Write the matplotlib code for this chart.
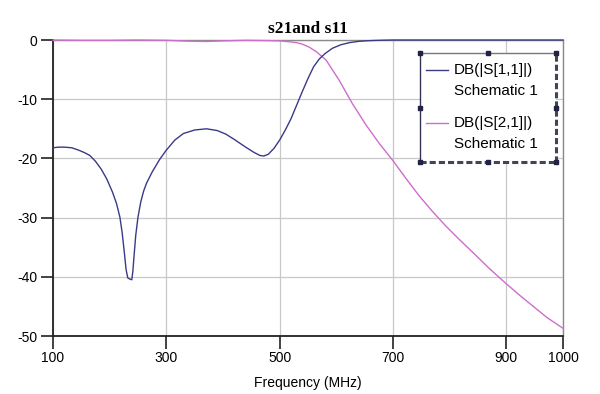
import matplotlib
matplotlib.use("Agg")
import matplotlib.pyplot as plt
from matplotlib.patches import Rectangle
from matplotlib.lines import Line2D

# S11 (dB) vs frequency (MHz)
s11_freq = [100, 110, 120, 133, 145, 155, 165, 175, 185, 195, 205, 212, 218, 222, 226, 229, 232, 236, 239, 241, 243, 246,
            250, 255, 260, 265, 275, 288, 300, 315, 330, 350, 371, 390, 405, 420, 440, 455, 465, 472, 480, 490, 500,
            510, 520, 530, 540, 550, 560, 570, 580, 593, 608, 623, 640, 660, 680, 700, 1000]
s11_db = [-18.2, -18.1, -18.1, -18.2, -18.6, -19.0, -19.5, -20.5, -21.8, -23.5, -25.7, -27.6, -29.9, -32.5, -36.0, -38.8, -40.2, -40.4, -40.5, -39.0, -36.5, -33.0,
          -29.9, -27.3, -25.5, -24.2, -22.3, -20.2, -18.6, -16.9, -15.8, -15.2, -15.0, -15.3, -15.9, -16.8, -18.1, -19.0, -19.5, -19.6, -19.3, -18.3, -16.9,
          -15.2, -13.3, -11.0, -8.7, -6.5, -4.5, -3.2, -2.3, -1.4, -0.8, -0.45, -0.22, -0.1, -0.04, 0.0, 0.0]

# S21 (dB) vs frequency (MHz)
s21_freq = [100, 150, 200, 250, 300, 340, 370, 400, 440, 480, 500, 517, 530, 540, 552, 565, 582, 605, 628, 652, 676, 700,
            723, 746, 770, 793, 816, 840, 870, 899, 922, 945, 972, 1000]
s21_db = [0.0, -0.05, -0.05, 0.0, -0.05, -0.2, -0.25, -0.15, -0.05, -0.1, -0.15, -0.3, -0.45, -0.7, -1.2, -2.0, -3.4, -6.8, -10.7, -14.3, -17.5, -20.4,
          -23.4, -26.3, -29.0, -31.4, -33.6, -35.8, -38.6, -41.1, -43.0, -44.8, -46.9, -48.7]

xticks = [100, 300, 500, 700, 900, 1000]
yticks = [0, -10, -20, -30, -40, -50]
legend_labels = ["DB(|S[1,1]|)", "DB(|S[2,1]|)"]
legend_sub = "Schematic 1"

c11 = "#3a3a86"
c21 = "#cc6fcc"

plt.rcParams['font.family'] = ['Liberation Sans', 'DejaVu Sans']
fig = plt.figure(figsize=(6, 3.94), dpi=100)
ax = fig.add_axes([53/600, 1-336/394, 510/600, 296/394])

ax.plot(s21_freq, s21_db, color=c21, lw=1.0, clip_on=False, zorder=3)
ax.plot(s11_freq, s11_db, color=c11, lw=1.0, clip_on=False, zorder=4)

ax.set_xlim(100, 1000)
ax.set_ylim(-50, 0)
ax.set_xticks(xticks)
ax.set_yticks(yticks)
ax.set_xticklabels([str(t) for t in xticks], fontsize=10)
ax.set_yticklabels([str(t) for t in yticks], fontsize=10)
ax.tick_params(direction='out', length=9, width=1.2, color='#222222', pad=2)
ax.grid(True, color='#c8c8c8', lw=0.9)
ax.set_axisbelow(True)
for s in ['left', 'bottom']:
    ax.spines[s].set_color('#222222')
    ax.spines[s].set_linewidth(1.3)
for s in ['top', 'right']:
    ax.spines[s].set_color('#8a8a8a')
    ax.spines[s].set_linewidth(1.0)

ax.set_xlabel("Frequency (MHz)", fontsize=10, labelpad=6)
ax.xaxis.set_label_coords(0.5, -0.135)
ax.set_title("s21and s11", fontsize=12.5, fontweight='bold', family='Liberation Serif', pad=5)

# legend box (axes fraction)
x0, x1 = (420-53)/510, (556-53)/510
y0, y1 = (336-162)/296, (336-53)/296
ax.add_patch(Rectangle((x0, y0), x1-x0, y1-y0, transform=ax.transAxes, facecolor='white',
                       edgecolor='none', zorder=5, clip_on=False))
ax.add_line(Line2D([x0, x1], [y1, y1], transform=ax.transAxes, color='#777777', lw=1.0, zorder=6, clip_on=False))
ax.add_line(Line2D([x0, x0], [y0, y1], transform=ax.transAxes, color='#333355', lw=1.0, zorder=6, clip_on=False))
ax.add_line(Line2D([x1, x1], [y0, y1], transform=ax.transAxes, color='#444455', lw=2.2, ls=(0, (2, 1)), zorder=6, clip_on=False))
ax.add_line(Line2D([x0, x1], [y0, y0], transform=ax.transAxes, color='#444455', lw=2.2, ls=(0, (2, 1)), zorder=6, clip_on=False))
xm, ym = (x0+x1)/2, (y0+y1)/2
hx = [x0, xm, x1, x0, x1, x0, xm, x1]
hy = [y1, y1, y1, ym, ym, y0, y0, y0]
ax.add_line(Line2D(hx, hy, transform=ax.transAxes, ls='none', marker='s', ms=3, color='#222244', zorder=7, clip_on=False))

for i, (lab, col) in enumerate(zip(legend_labels, [c11, c21])):
    yl = (336-70-i*53)/296
    ax.add_line(Line2D([(426-53)/510, (448-53)/510], [yl, yl], transform=ax.transAxes, color=col, lw=1.0, zorder=7, clip_on=False))
    ax.text((454-53)/510, yl, lab, transform=ax.transAxes, fontsize=11, va='center', ha='left', zorder=8)
    ax.text((454-53)/510, yl-21/296, legend_sub, transform=ax.transAxes, fontsize=11, va='center', ha='left', zorder=8)

fig.savefig("out.png", dpi=100)
